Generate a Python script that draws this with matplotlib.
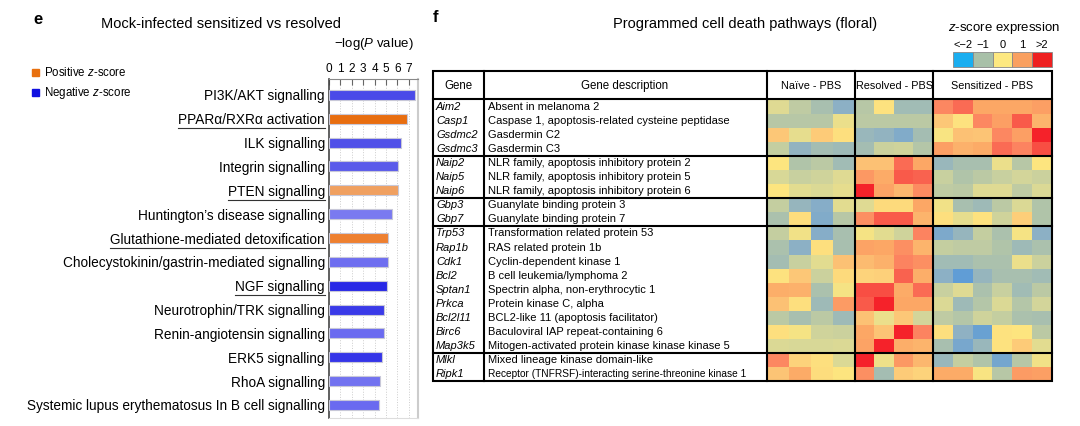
import numpy as np
import matplotlib
matplotlib.use("Agg")
import matplotlib.pyplot as plt
from matplotlib.colors import LinearSegmentedColormap
from matplotlib.lines import Line2D
import matplotlib.patches as patches

plt.rcParams["font.family"] = ["Liberation Sans", "DejaVu Sans"]
plt.rcParams["mathtext.fontset"] = "custom"
plt.rcParams["mathtext.rm"] = "Liberation Sans"
plt.rcParams["mathtext.it"] = "Liberation Sans:italic"

# ---- painel e: vias (IPA) ----
VIAS = [
    "PI3K/AKT signalling",
    "PPARα/RXRα activation",
    "ILK signalling",
    "Integrin signalling",
    "PTEN signalling",
    "Huntington’s disease signalling",
    "Glutathione-mediated detoxification",
    "Cholecystokinin/gastrin-mediated signalling",
    "NGF signalling",
    "Neurotrophin/TRK signalling",
    "Renin-angiotensin signalling",
    "ERK5 signalling",
    "RhoA signalling",
    "Systemic lupus erythematosus In B cell signalling",
]
LOGP = [7.5, 6.8, 6.3, 6.05, 6.05, 5.5, 5.2, 5.15, 5.05, 4.8, 4.8, 4.65, 4.45, 4.4]
CORES_BARRAS = ["#4a4ae8", "#e86e10", "#4f4fe8", "#5a5aea", "#f0a060", "#7a7af0",
                "#ee8030", "#6e6ef0", "#2828e6", "#3a3ae8", "#6a6af0", "#3535e8",
                "#7272f0", "#6a6af0"]
SUBLINHADAS = [1, 4, 6, 8]

# ---- painel f: tabela de genes ----
GENES = ["Aim2", "Casp1", "Gsdmc2", "Gsdmc3", "Naip2", "Naip5", "Naip6", "Gbp3", "Gbp7",
         "Trp53", "Rap1b", "Cdk1", "Bcl2", "Sptan1", "Prkca", "Bcl2l11", "Birc6",
         "Map3k5", "Mlkl", "Ripk1"]
DESCRICOES = [
    "Absent in melanoma 2",
    "Caspase 1, apoptosis-related cysteine peptidase",
    "Gasdermin C2",
    "Gasdermin C3",
    "NLR family, apoptosis inhibitory protein 2",
    "NLR family, apoptosis inhibitory protein 5",
    "NLR family, apoptosis inhibitory protein 6",
    "Guanylate binding protein 3",
    "Guanylate binding protein 7",
    "Transformation related protein 53",
    "RAS related protein 1b",
    "Cyclin-dependent kinase 1",
    "B cell leukemia/lymphoma 2",
    "Spectrin alpha, non-erythrocytic 1",
    "Protein kinase C, alpha",
    "BCL2-like 11 (apoptosis facilitator)",
    "Baculoviral IAP repeat-containing 6",
    "Mitogen-activated protein kinase kinase kinase 5",
    "Mixed lineage kinase domain-like",
    "Receptor (TNFRSF)-interacting serine-threonine kinase 1",
]
GRUPOS_FIM = [4, 7, 9, 18]  # linhas apos as quais vem separador grosso

NAIVE = [
    [-0.4, -0.8, -1.1, -1.5],
    [-0.9, -0.9, -0.9, -0.25],
    [0.5, -0.3, 0.45, 0.1],
    [-0.75, -1.4, -1.15, -1.25],
    [0.0, -1.0, -0.85, -1.2],
    [-0.5, -0.7, -0.6, -0.4],
    [0.0, -0.35, -0.45, -0.3],
    [-0.75, -1.35, -1.55, -0.35],
    [-1.05, 0.15, -1.6, -0.9],
    [-0.75, -0.15, -1.55, -1.1],
    [-1.05, -1.5, 0.1, -1.1],
    [-1.15, -0.7, -0.35, 0.6],
    [0.05, 0.5, -0.65, 0.2],
    [0.9, 0.85, -1.05, -0.1],
    [0.6, 0.1, -1.25, 1.15],
    [-0.85, -1.1, -0.85, -1.25],
    [0.1, -0.1, -0.6, -0.65],
    [-0.45, -0.5, -0.5, -0.45],
    [1.4, 0.3, 0.1, -0.45],
    [0.55, 0.95, 0.15, 0.0],
]
RESOLVED = [
    [-0.9, 0.05, -1.2, -1.2],
    [-0.85, -0.85, -0.85, -0.85],
    [-1.3, -1.4, -1.6, -1.15],
    [-1.15, -0.65, -0.6, -0.95],
    [0.6, 0.6, 1.6, 1.0],
    [1.2, 0.95, 1.7, 1.65],
    [2.0, 1.05, 0.75, 1.35],
    [-0.4, 0.2, 0.2, 1.0],
    [1.3, 1.7, 1.7, 0.8],
    [-0.1, -0.35, -0.6, 1.45],
    [1.05, 1.0, 1.3, 0.8],
    [0.7, 0.85, 1.45, 1.3],
    [0.3, 0.35, 1.65, 0.9],
    [1.75, 1.75, 0.95, 1.6],
    [1.7, 2.0, 1.0, 1.0],
    [0.6, -0.25, 0.5, -0.55],
    [1.0, 0.55, 2.0, 1.45],
    [1.05, 2.0, 0.9, 0.8],
    [2.0, -0.2, 1.2, 0.75],
    [1.3, -1.15, 0.45, 0.3],
]
SENSITIZED = [
    [1.4, 1.6, 1.0, 1.0, 1.0, 1.1],
    [0.5, 0.05, 1.4, 1.1, 1.7, 0.8],
    [-0.05, 0.6, 0.55, 1.4, 1.1, 2.0],
    [1.1, 0.85, 0.95, 1.6, 1.45, 1.75],
    [-1.3, -1.1, -1.1, -0.25, -0.9, 0.0],
    [-0.7, -1.0, -0.85, -0.7, -0.55, -0.65],
    [-0.8, -0.85, -0.4, -0.4, -0.8, -0.45],
    [-0.15, -1.1, -1.25, -0.85, -0.45, -1.0],
    [0.1, -0.3, 0.05, -0.6, 0.4, -1.0],
    [-1.65, -1.35, -0.75, -1.05, -0.1, -1.5],
    [-0.75, -0.8, -0.8, -1.0, -1.25, -1.05],
    [-1.2, -1.2, -1.05, -1.05, -0.25, -0.65],
    [-1.5, -1.95, -1.35, -1.1, -1.1, -1.2],
    [-0.7, -0.4, -1.05, -0.7, -1.2, -0.85],
    [-0.45, -1.25, -0.95, -0.45, -0.95, -0.55],
    [-0.8, -0.95, -0.6, -0.75, -1.05, -1.1],
    [0.1, -1.45, -1.85, 0.05, 0.0, -0.85],
    [-1.1, -1.7, -1.3, 0.05, 0.45, -0.35],
    [-1.3, -0.75, -1.0, -1.75, -0.9, -0.15],
    [0.95, 0.95, -0.05, -0.9, 1.15, 1.1],
]
GRUPOS = ["Naïve - PBS", "Resolved - PBS", "Sensitized - PBS"]

LEG_ROTULOS = ["<−2", "−1", "0", "1", ">2"]
LEG_CORES = ["#1aaef0", "#a8c0a8", "#fde880", "#f9a060", "#ee2020"]

cmap = LinearSegmentedColormap.from_list("zscore", [
    (0.0, "#5c9cd8"), (0.125, "#8cb0c6"), (0.25, "#b0c4aa"), (0.375, "#d8d898"),
    (0.5, "#fde680"), (0.625, "#fdc878"), (0.75, "#fca866"), (0.875, "#fc8060"),
    (1.0, "#f5222a")])

W, H = 1080, 426
fig = plt.figure(figsize=(W / 100, H / 100), dpi=100)


def rect(x0, y0, x1, y1):
    # pixels (origem no topo) -> fracao da figura
    return [x0 / W, 1 - y1 / H, (x1 - x0) / W, (y1 - y0) / H]


# ---- painel e ----
ax = fig.add_axes(rect(329, 79, 418, 418))
y = np.arange(len(VIAS))
ax.barh(y, LOGP, height=0.42, color=CORES_BARRAS, edgecolor="#c8c8d8", linewidth=0.8, zorder=3)
ax.set_xlim(0, 7.8)
ax.set_ylim(len(VIAS) - 0.45, -0.67)
ax.set_xticks(range(8))
ax.xaxis.tick_top()
ax.tick_params(axis="x", direction="in", length=4, width=0.8, color="#666666",
               labelsize=8.5, pad=3)
ax.set_yticks(y)
ax.set_yticklabels(VIAS, fontsize=9.85)
ax.tick_params(axis="y", length=0, pad=3)
for v in range(1, 8):
    ax.axvline(v, color="#cccccc", linestyle=":", linewidth=0.7, zorder=1)
ax.spines["left"].set_color("#444444")
ax.spines["left"].set_linewidth(1.2)
ax.spines["top"].set_color("#888888")
ax.spines["right"].set_color("#cccccc")
ax.spines["right"].set_linewidth(1.5)
ax.spines["bottom"].set_color("#dddddd")

# ---- painel f: heatmaps ----
blocos = [(NAIVE, 767, 855), (RESOLVED, 855, 933), (SENSITIZED, 933, 1052)]
TOPO, FUNDO = 100, 381
for dados, x0, x1 in blocos:
    axh = fig.add_axes(rect(x0, TOPO, x1, FUNDO))
    axh.imshow(np.array(dados), cmap=cmap, vmin=-2, vmax=2, aspect="auto",
               interpolation="nearest")
    axh.axis("off")

# ---- camada de anotacoes em pixels ----
ov = fig.add_axes([0, 0, 1, 1])
ov.set_xlim(0, W)
ov.set_ylim(H, 0)
ov.axis("off")

ov.text(33, 20, "e", fontsize=12, fontweight="bold", va="center")
ov.text(221, 24, "Mock-infected sensitized vs resolved", fontsize=10.5, ha="center", va="center")
ov.text(374, 44, "−log($P$ value)", fontsize=9.5, ha="center", va="center")
ov.add_patch(patches.Rectangle((32, 69), 7, 7, color="#e8700f"))
ov.add_patch(patches.Rectangle((32, 89), 7, 7, color="#1010e0"))
ov.text(44, 73, "Positive $z$-score", fontsize=8.3, va="center")
ov.text(44, 93, "Negative $z$-score", fontsize=8.3, va="center")

ov.text(433, 18, "f", fontsize=12, fontweight="bold", va="center")
ov.text(745, 24, "Programmed cell death pathways (floral)", fontsize=10.5, ha="center", va="center")
ov.text(1004, 28, "$z$-score expression", fontsize=9.5, ha="center", va="center")
for i, (rot, cor) in enumerate(zip(LEG_ROTULOS, LEG_CORES)):
    xc = 953 + 19.8 * (i + 0.5)
    ov.text(xc, 45, rot, fontsize=8, ha="center", va="center")
    ov.add_patch(patches.Rectangle((953 + 19.8 * i, 52), 19.8, 15, facecolor=cor,
                                   edgecolor="#888888", linewidth=0.6))

# tabela
XE, XG, XD, XR = 433, 484, 767, 1052
ov.text(458, 86, "Gene", fontsize=8.3, ha="center", va="center")
ov.text(625, 86, "Gene description", fontsize=8.3, ha="center", va="center")
for nome, (_, x0, x1) in zip(GRUPOS, blocos):
    ov.text((x0 + x1) / 2, 86, nome, fontsize=7.8, ha="center", va="center")

alt = (FUNDO - TOPO) / len(GENES)
for i, (g, d) in enumerate(zip(GENES, DESCRICOES)):
    yc = TOPO + alt * (i + 0.5)
    ov.text(XE + 3, yc, g, fontsize=8, fontstyle="italic", va="center")
    # a ultima descricao esta comprimida no original pra caber
    ov.text(XG + 4, yc, d, fontsize=7.3 if i == len(GENES) - 1 else 8, va="center")

lw = 1.5
ov.add_patch(patches.Rectangle((XE, 71), XR - XE, FUNDO - 71, fill=False,
                               edgecolor="black", linewidth=lw))
ov.plot([XE, XR], [TOPO - 1, TOPO - 1], color="black", lw=lw)
for k in GRUPOS_FIM:
    yy = TOPO + alt * k
    ov.plot([XE, XR], [yy, yy], color="black", lw=lw)
for xx in [XG, XD, 855, 933]:
    ov.plot([xx, xx], [71, FUNDO], color="black", lw=lw)

# sublinhado dos rotulos destacados
fig.canvas.draw()
rend = fig.canvas.get_renderer()
labels = ax.get_yticklabels()
for i in SUBLINHADAS:
    bb = labels[i].get_window_extent(rend)
    yb = bb.y0 - 1
    fig.add_artist(Line2D([bb.x0 / W, bb.x1 / W], [yb / H, yb / H],
                          color="#333333", linewidth=0.8, transform=fig.transFigure))

fig.savefig("out.png", dpi=100)
